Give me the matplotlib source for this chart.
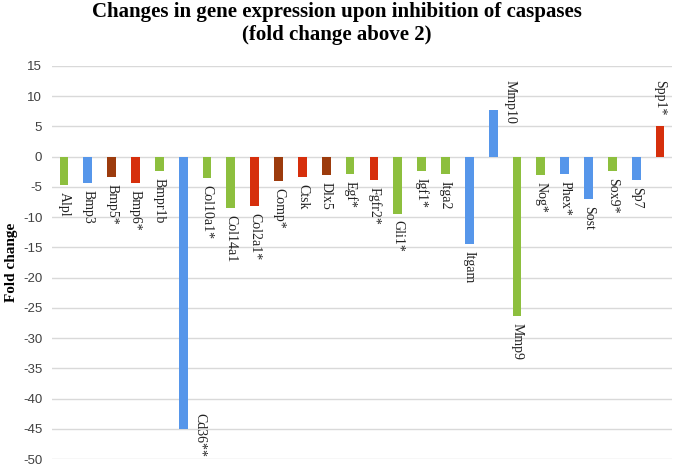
import matplotlib
matplotlib.use("Agg")
import matplotlib.pyplot as plt
import numpy as np

plt.rcParams["axes.unicode_minus"] = False

genes = ["Alpl", "Bmp3", "Bmp5*", "Bmp6*", "Bmpr1b", "Cd36**", "Col10a1*",
         "Col14a1", "Col2a1*", "Comp*", "Ctsk", "Dlx5", "Egf*", "Fgfr2*",
         "Gli1*", "Igf1*", "Itga2", "Itgam", "Mmp10", "Mmp9", "Nog*", "Phex*",
         "Sost", "Sox9*", "Sp7", "Spp1*"]
fold = [-4.7, -4.4, -3.3, -4.3, -2.3, -45.0, -3.5, -8.5, -8.2, -4.0, -3.4,
        -3.1, -2.8, -3.9, -9.4, -2.4, -2.9, -14.4, 7.7, -26.4, -3.1, -2.9,
        -7.0, -2.3, -3.9, 5.1]
group = ["g", "b", "br", "r", "g", "b", "g", "g", "r", "br", "r", "br", "g",
         "r", "g", "g", "g", "b", "b", "g", "g", "b", "b", "g", "b", "r"]

palette = {"g": "#8DBF3E", "b": "#5696EA", "br": "#9C3B0D", "r": "#D62F0C"}

fig = plt.figure(figsize=(6.74, 4.65), dpi=100)
ax = fig.add_axes([52 / 674, 1 - 459 / 465, 620 / 674, 393 / 465])

x = np.arange(len(genes))
ax.bar(x, fold, width=0.37, color=[palette[g] for g in group], zorder=3)

ax.set_xlim(-0.5, len(genes) - 0.5)
ax.set_ylim(-50, 15)
ax.set_yticks(np.arange(-50, 16, 5))
ax.yaxis.grid(True, color="#D9D9D9", linewidth=1, zorder=0)
ax.set_xticks([])
for s in ax.spines.values():
    s.set_visible(False)
ax.tick_params(axis="y", length=0, pad=7, labelsize=9.5, labelcolor="#404040")
for t in ax.get_yticklabels():
    t.set_family("Liberation Sans")

# labels sit just past the bar end; a few are nudged like in the original
for xi, v, name in zip(x, fold, genes):
    dx = 12 if name in ("Cd36**", "Mmp10") else 0
    if name == "Cd36**":
        y0, off = -42.4, 0
    elif v < 0:
        y0, off = v, -5
    else:
        y0, off = 12.7, 0
    ax.annotate(name, (xi, y0), xytext=(dx, off), textcoords="offset points",
                rotation=270, ha="center", va="top", fontsize=10,
                family="Liberation Serif", color="#222222")

fig.text(0.5, 1 - 12 / 465, "Changes in gene expression upon inhibition of caspases",
         ha="center", va="center", fontsize=15, fontweight="bold",
         family="Liberation Serif")
fig.text(0.5, 1 - 35 / 465, "(fold change above 2)", ha="center", va="center",
         fontsize=15, fontweight="bold", family="Liberation Serif")
fig.text(12 / 674, 1 - 262 / 465, "Fold change", rotation=90, ha="center",
         va="center", fontsize=11, fontweight="bold", family="Liberation Serif")

fig.savefig("out.png", dpi=100)
